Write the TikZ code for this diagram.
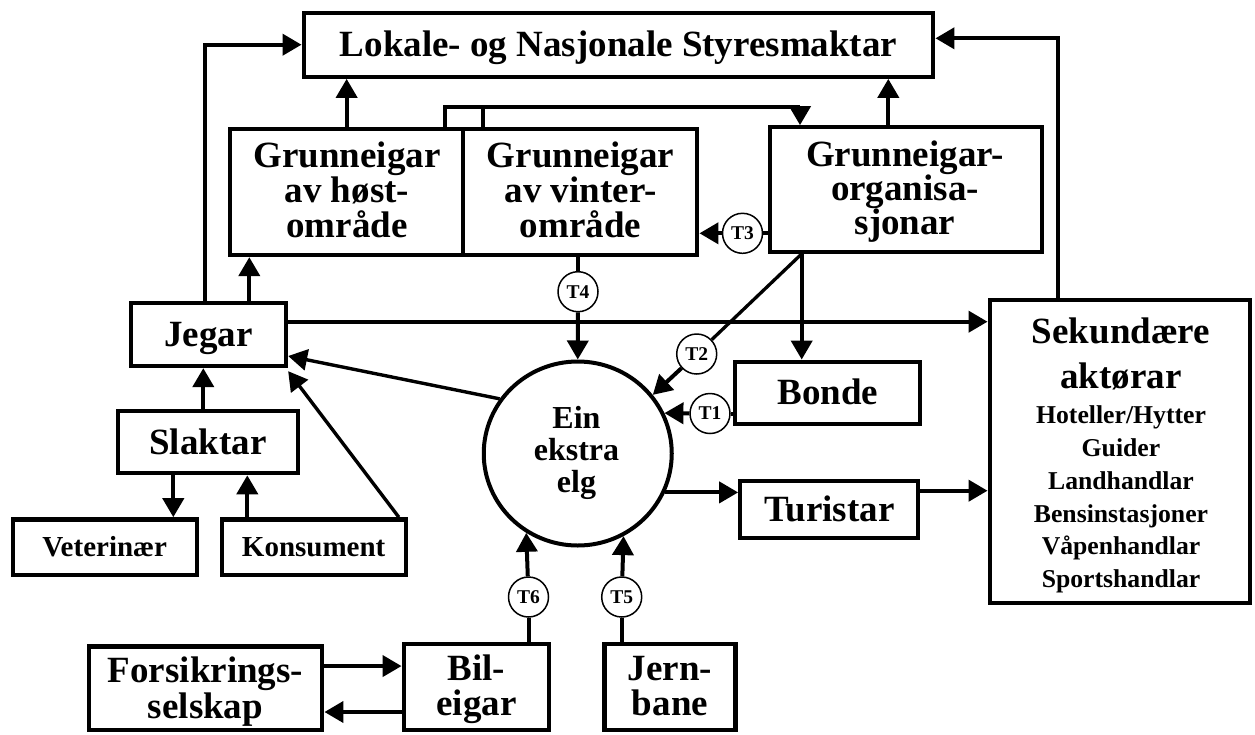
\documentclass[tikz,border=0pt]{standalone}
\usepackage{fontspec}
\setmainfont{Liberation Serif}
\usetikzlibrary{arrows.meta,shapes.geometric}
\begin{document}
\begin{tikzpicture}[x=1pt,y=-1pt,
  box/.style={draw, rectangle, line width=4.3pt, inner sep=0pt},
  big/.style={font=\fontsize{37}{35}\selectfont\bfseries},
  mid/.style={font=\fontsize{29}{30}\selectfont\bfseries},
  capt/.style={text height=24.5pt, text depth=0pt},
  capm/.style={text height=19.2pt, text depth=0pt},
  lbl/.style={anchor=base, inner sep=0pt, font=\fontsize{37}{35}\selectfont\bfseries},
  lblc/.style={anchor=base, inner sep=0pt, font=\fontsize{32}{32}\selectfont\bfseries},
  lbls/.style={anchor=base, inner sep=0pt, font=\fontsize{25.7}{27}\selectfont\bfseries},
  tc/.style={draw, circle, line width=1.5pt, minimum size=40pt, inner sep=0pt, fill=white, font=\fontsize{19.5}{20}\selectfont\bfseries},
  arr/.style={line width=4pt, -{Triangle[length=19pt,width=21pt]}},
  slimarr/.style={line width=3.4pt, -{Triangle[length=19pt,width=21pt]}},
  ln/.style={line width=4pt},
  slim/.style={line width=3.3pt}
]
\useasboundingbox (0,0) rectangle (1255,734);
\fill[white] (0,0) rectangle (1255,734);

% boxes
\node[box, minimum width=629.6pt, minimum height=64pt, big, capt] (top) at (618.5,44.7) {Lokale- og Nasjonale Styresmaktar};
\node[box, minimum width=233.3pt, minimum height=126pt] (host) at (346.65,192) {};
\node[box, minimum width=234pt, minimum height=126pt] (vinter) at (580.3,192) {};
\node[box, minimum width=271.4pt, minimum height=124.4pt] (org) at (906,189.5) {};
\node[box, minimum width=155pt, minimum height=63pt, big, capt] (jegar) at (208.5,334.5) {Jegar};
\node[box, minimum width=179.4pt, minimum height=62.3pt, big, capt] (slaktar) at (208,442) {Slaktar};
\node[box, minimum width=184pt, minimum height=55.7pt, mid, capm] (vet) at (104.7,547.2) {Veterinær};
\node[box, minimum width=184pt, minimum height=55.7pt, mid, capm] (kons) at (313.7,547.2) {Konsument};
\node[draw, ellipse, line width=4pt, minimum width=188pt, minimum height=184pt, inner sep=0pt] (elg) at (577.75,453.5) {};
\node[box, minimum width=185pt, minimum height=62pt, big, capt] (bonde) at (827.8,392.7) {Bonde};
\node[box, minimum width=178pt, minimum height=57pt, big, capt] (tur) at (829.3,509.2) {Turistar};
\node[box, minimum width=260.3pt, minimum height=303pt] (sek) at (1119.85,451.2) {};
\node[box, minimum width=233pt, minimum height=83.5pt] (fors) at (205.8,688.25) {};
\node[box, minimum width=145pt, minimum height=86pt] (bil) at (476.2,687) {};
\node[box, minimum width=131pt, minimum height=86pt] (jern) at (670.1,687) {};

% multi-line texts
\node[lbl] (h1) at (346.9,167) {Grunneigar};
\node[lbl] (h2) at (346.9,202) {av høst-};
\node[lbl] (h3) at (346.9,237) {område};
\node[lbl] (v1) at (580.5,167) {Grunneigar};
\node[lbl] (v2) at (580.5,202) {av vinter-};
\node[lbl] (v3) at (580.5,237) {område};
\node[lbl] (o1) at (905,166) {Grunneigar-};
\node[lbl] (o2) at (905,200.5) {organisa-};
\node[lbl] (o3) at (905,234.5) {sjonar};
\node[lblc] (e1) at (576.5,428.7) {Ein};
\node[lblc] (e2) at (576.5,460.3) {ekstra};
\node[lblc] (e3) at (576.5,492) {elg};
\node[lbl] (s1) at (1121,343.3) {Sekundære};
\node[lbl] (s2) at (1121,388.7) {aktørar};
\node[lbls] (s3) at (1121,423.7) {Hoteller/Hytter};
\node[lbls] (s4) at (1121,456.3) {Guider};
\node[lbls] (s5) at (1121,489.3) {Landhandlar};
\node[lbls] (s6) at (1121,522) {Bensinstasjoner};
\node[lbls] (s7) at (1121,554.7) {Våpenhandlar};
\node[lbls] (s8) at (1121,587) {Sportshandlar};
\node[lbl] (f1) at (205.5,682) {Forsikrings-};
\node[lbl] (f2) at (205.5,718.7) {selskap};
\node[lbl] (b1) at (476.5,680.3) {Bil-};
\node[lbl] (b2) at (476.5,715.3) {eigar};
\node[lbl] (j1) at (670,680.3) {Jern-};
\node[lbl] (j2) at (670,715.3) {bane};

% T circles
\node[tc] (t1) at (710,413.5) {T1};
\node[tc] (t2) at (696.7,354) {T2};
\node[tc] (t3) at (742.5,233.3) {T3};
\node[tc] (t4) at (578,291.7) {T4};
\node[tc] (t5) at (621.7,597) {T5};
\node[tc] (t6) at (528.5,597) {T6};

% connectors
\coordinate (brk) at (0,107.3);
\draw[arr] ([xshift=-3.5pt]jegar.north) |- (top.west);
\draw[arr] (host.north) -- (host.north |- top.south);
\draw[arr] ([xshift=-17.7pt]org.north) -- ([xshift=-17.7pt]org.north |- top.south);
\draw[arr] ([xshift=-62pt]sek.north) |- ([yshift=6.4pt]top.east);
\draw[arr] ([xshift=98.3pt]host.north) |- ([xshift=-106pt]org.north |- brk) -- ([xshift=-106pt]org.north);
\draw[ln] ([xshift=-97pt]vinter.north) -- ([xshift=-97pt]vinter.north |- brk);
\draw[ln] ([yshift=-43.8pt]org.west) -- (t3);
\draw[arr] (t3) -- (t3 -| vinter.east);
\draw[ln] (t4 |- vinter.south) -- (t4);
\draw[arr] (t4) -- (elg.north);
\draw[arr] ([yshift=12.8pt]jegar.east) -- ([yshift=12.8pt]jegar.east -| sek.west);
\draw[arr] ([xshift=40.8pt]jegar.north) -- ([xshift=40.8pt]jegar.north |- host.south);
\draw[arr] ([xshift=-4.7pt]slaktar.north) -- ([xshift=-4.7pt]slaktar.north |- jegar.south);
\draw[arr] ([xshift=-34.7pt]slaktar.south) -- ([xshift=-34.7pt]slaktar.south |- vet.north);
\draw[arr] ([xshift=39.3pt]slaktar.south |- kons.north) -- ([xshift=39.3pt]slaktar.south);
\draw[slimarr] ([xshift=-9pt]kons.north east) -- ([yshift=-3pt]jegar.south east);
\draw[slimarr] (elg.145.6) -- ([yshift=-21.5pt]jegar.east);
\draw[arr] ([xshift=-104.3pt]org.south) -- ([xshift=-104.3pt]org.south |- bonde.north);
\draw[slim] ([xshift=-104.3pt]org.south) -- (t2);
\draw[arr] (t2) -- (elg.38);
\draw[ln] ([yshift=-20.8pt]bonde.west) -- (t1);
\draw[arr] (t1) -- (elg.25.8);
\draw[arr] (elg.-24.7) -- (elg.-24.7 -| tur.west);
\draw[arr] ([yshift=18.5pt]tur.east) -- ([yshift=18.5pt]tur.east -| sek.west);
\draw[ln] (t6 |- bil.north) -- (t6);
\draw[arr] (t6) -- (elg.237.7);
\draw[ln] (t5 |- jern.north) -- (t5);
\draw[arr] (t5) -- (elg.-61.6);
\draw[arr] ([yshift=22.2pt]fors.east) -- ([yshift=22.2pt]fors.east -| bil.west);
\draw[arr] ([yshift=-25pt]bil.west) -- ([yshift=-25pt]bil.west -| fors.east);
\end{tikzpicture}
\end{document}
